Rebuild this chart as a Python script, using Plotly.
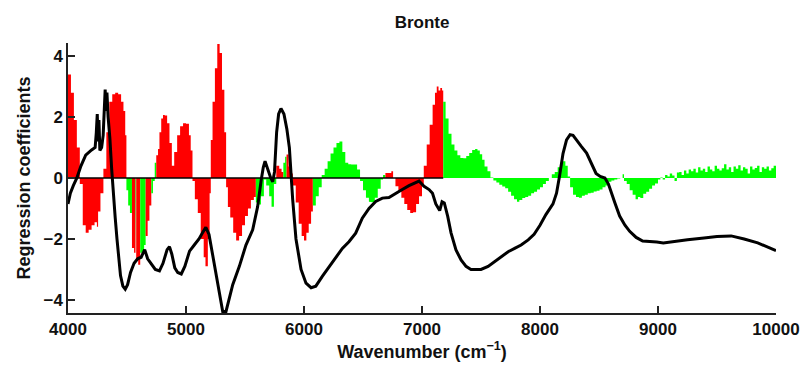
import plotly.graph_objects as go

# ---- Regression coefficients (bar start wavenumber, value) ----
coef_wn = [
    4000, 4025, 4050, 4075, 4100, 4125, 4150, 4175, 4200, 4225,
    4245, 4255, 4275, 4300, 4325, 4350, 4375, 4400, 4425, 4450,
    4470, 4485, 4495, 4510, 4525, 4542, 4560, 4572, 4578, 4595,
    4612, 4630, 4645, 4658, 4675, 4690, 4706, 4720, 4735, 4748,
    4763, 4775, 4790, 4805, 4820, 4840, 4860, 4880, 4900, 4925,
    4950, 4975, 5000, 5025, 5040, 5055, 5075, 5100, 5125, 5150,
    5165, 5185, 5200, 5210, 5225, 5245, 5265, 5285, 5305, 5325,
    5340, 5355, 5375, 5400, 5425, 5450, 5475, 5500, 5525, 5550,
    5575, 5592, 5610, 5635, 5660, 5680, 5705, 5725, 5745, 5765,
    5790, 5810, 5825, 5840, 5852, 5870, 5890, 5905, 5930, 5955,
    5980, 6000, 6020, 6040, 6060, 6075, 6100, 6125, 6150, 6175,
    6200, 6225, 6250, 6275, 6300, 6325, 6350, 6375, 6400, 6425,
    6450, 6475, 6500, 6525, 6550, 6575, 6600, 6625, 6650, 6670,
    6690, 6715, 6740, 6755, 6775, 6800, 6825, 6850, 6875, 6900,
    6925, 6950, 6975, 7000, 7015, 7040, 7065, 7090, 7110, 7125,
    7140, 7155, 7170, 7180, 7200, 7225, 7250, 7275, 7300, 7325,
    7350, 7375, 7400, 7425, 7450, 7470, 7490, 7510, 7530, 7555,
    7580, 7605, 7630, 7655, 7680, 7705, 7730, 7755, 7780, 7805,
    7825, 7850, 7875, 7900, 7925, 7950, 7975, 8000, 8025, 8050,
    8075, 8100, 8125, 8150, 8175, 8195, 8215, 8235, 8255, 8280,
    8305, 8330, 8355, 8380, 8405, 8430, 8455, 8480, 8505, 8530,
    8555, 8580, 8605, 8630, 8655, 8680, 8700, 8712, 8735, 8760,
    8785, 8810, 8830, 8850, 8875, 8900, 8925, 8950, 8975, 9000,
    9020, 9040, 9060, 9080, 9100, 9120, 9140, 9160, 9180, 9200,
    9220, 9240, 9260, 9280, 9300, 9320, 9340, 9360, 9380, 9400,
    9420, 9440, 9460, 9480, 9500, 9520, 9540, 9560, 9580, 9600,
    9620, 9640, 9660, 9680, 9700, 9720, 9740, 9760, 9780, 9800,
    9820, 9840, 9860, 9880, 9900, 9920, 9940, 9960, 9980,
]
coef_val = [
    3.4, 2.8, 1.9, 1.0, -0.2, -1.55, -1.8, -1.7, -1.55, -1.45,
    -1.6, -1.1, -0.5, 0.3, 1.5, 2.5, 2.75, 2.8, 2.75, 2.5,
    2.2, 1.4, -0.4, -0.9, -1.15, -2.3, -2.45, -2.45, -2.7, -2.85,
    -2.45, -2.4, -2.2, -1.9, -1.4, -0.9, -0.5, -0.1, 0.5, 0.75,
    0.95, 1.5, 1.95, 2.07, 2.05, 1.8, 1.15, 0.4, 0.85, 1.4,
    1.7, 1.8, 1.78, 1.4, 0.9, -0.1, -0.7, -1.15, -2.0, -2.6,
    -2.9, -2.0, -0.5, 1.25, 2.5, 3.6, 4.4, 4.1, 2.9, 1.5,
    -0.3, -0.95, -1.3, -1.8, -2.05, -1.9, -1.55, -1.25, -1.0, -0.72,
    -0.62, -0.8, -0.87, -0.6, -0.05, -0.25, -0.6, -0.94, -0.2, 0.4,
    0.3, 0.2, 0.5, 0.7, 0.77, 0.38, 0.15, -0.25, -0.8, -1.5,
    -1.9, -2.05, -1.8, -1.5, -1.1, -0.9, -0.6, -0.3, 0.1, 0.3,
    0.55, 0.8, 1.0, 1.15, 1.2, 0.85, 0.5, 0.45, 0.44, 0.44,
    0.28, -0.1, -0.4, -0.65, -0.78, -0.8, -0.65, -0.35, -0.05, 0.1,
    0.16, 0.16, 0.22, 0.0, -0.27, -0.45, -0.65, -0.85, -1.05, -1.15,
    -1.12, -0.85, -0.6, -0.2, 0.4, 1.1, 1.75, 2.4, 2.8, 3.0,
    2.87, 2.95, 2.87, 2.5, 1.95, 1.45, 1.1, 0.9, 0.75, 0.66,
    0.65, 0.72, 0.82, 0.92, 0.95, 0.9, 0.78, 0.6, 0.38, 0.22,
    0.02, -0.08, -0.15, -0.22, -0.28, -0.34, -0.45, -0.58, -0.7, -0.78,
    -0.72, -0.66, -0.62, -0.58, -0.5, -0.45, -0.38, -0.3, -0.2, -0.1,
    0.0, 0.12, 0.2, 0.35, 0.5, 0.55, 0.4, 0.05, -0.3, -0.55,
    -0.62, -0.65, -0.58, -0.55, -0.5, -0.48, -0.44, -0.42, -0.38, -0.3,
    -0.25, -0.12, -0.08, -0.05, -0.02, 0.0, 0.12, -0.1, -0.2, -0.4,
    -0.55, -0.7, -0.62, -0.66, -0.52, -0.45, -0.35, -0.25, -0.18, -0.05,
    0.02, -0.05, 0.1, 0.05, 0.15, 0.08, -0.1, 0.18, 0.2, 0.1,
    0.25, 0.15, 0.28, 0.22, 0.3, 0.18, 0.35, 0.25, 0.3, 0.2,
    0.38, 0.28, 0.22, 0.4, 0.3, 0.25, 0.32, 0.45, 0.28, 0.35,
    0.2, 0.38, 0.3, 0.42, 0.25, 0.35, 0.3, 0.15, 0.38, 0.28,
    0.33, 0.4, 0.2, 0.35, 0.3, 0.38, 0.25, 0.32, 0.4,
]
coef_end = 10000

# wavenumber bands whose coefficients are drawn in red (others green)
red_bands = [(4000, 4495), (4542, 4572), (4578, 4612), (4658, 4706),
             (4748, 5592), (5765, 5825), (5852, 6075), (6690, 7180)]

# ---- Scaled spectrum (black line) ----
spec_wn = [
    4000, 4020, 4045, 4075, 4110, 4150, 4200, 4230, 4240, 4248,
    4255, 4262, 4270, 4285, 4298, 4306, 4315, 4322, 4330, 4340,
    4355, 4370, 4385, 4400, 4415, 4430, 4445, 4465, 4485, 4505,
    4530, 4560, 4590, 4620, 4650, 4675, 4710, 4740, 4775, 4805,
    4840, 4860, 4880, 4905, 4930, 4960, 4990, 5030, 5070, 5110,
    5140, 5168, 5195, 5226, 5254, 5282, 5311, 5339, 5367, 5396,
    5452, 5508, 5565, 5607, 5636, 5655, 5670, 5690, 5718, 5735,
    5750, 5768, 5785, 5805, 5830, 5855, 5876, 5904, 5932, 5975,
    6017, 6060, 6100, 6155, 6212, 6268, 6325, 6381, 6438, 6494,
    6551, 6608, 6664, 6720, 6777, 6833, 6890, 6946, 6975, 7017,
    7060, 7089, 7117, 7150, 7170, 7189, 7218, 7246, 7288, 7331,
    7373, 7415, 7500, 7560, 7615, 7670, 7730, 7785, 7840, 7900,
    7950, 8000, 8050, 8110, 8140, 8165, 8195, 8225, 8255, 8280,
    8310, 8350, 8395, 8435, 8475, 8510, 8550, 8580, 8605, 8635,
    8675, 8720, 8760, 8815, 8870, 8930, 8990, 9045, 9100, 9160,
    9250, 9390, 9500, 9620, 9730, 9845, 9930, 10000,
]
spec_val = [
    -0.85, -0.5, -0.25, 0.0, 0.4, 0.75, 0.92, 1.0, 1.5, 2.1,
    1.2, 1.9, 0.9, 1.0, 1.4, 2.4, 2.9, 2.2, 2.8, 2.0,
    1.3, 0.3, -0.6, -1.3, -2.0, -2.7, -3.2, -3.55, -3.65, -3.5,
    -3.1, -2.8, -2.65, -2.6, -2.35, -2.65, -2.85, -3.0, -3.05, -2.8,
    -2.35, -2.25, -2.5, -2.95, -3.1, -3.15, -2.9, -2.4, -2.2, -2.0,
    -1.8, -1.62, -1.85, -2.55, -3.2, -3.85, -4.38, -4.38, -3.98, -3.5,
    -2.9, -2.2, -1.7, -0.94, -0.1, 0.35, 0.55, 0.3, 0.0, -0.12,
    0.2, 1.5, 2.1, 2.28, 2.1, 1.6, 1.0, -0.7, -2.0, -3.0,
    -3.45, -3.6, -3.55, -3.23, -2.92, -2.58, -2.31, -2.09, -1.81, -1.32,
    -1.0, -0.77, -0.66, -0.64, -0.52, -0.38, -0.25, -0.14, -0.1, -0.27,
    -0.38, -0.5, -0.85, -1.07, -0.78, -0.82, -1.26, -1.8, -2.36, -2.69,
    -2.9, -3.0, -3.0, -2.9, -2.75, -2.58, -2.42, -2.31, -2.2, -2.03,
    -1.85, -1.55, -1.2, -0.85, -0.5, 0.05, 0.8, 1.25, 1.42, 1.4,
    1.26, 1.04, 0.82, 0.5, 0.15, 0.05, 0.0, -0.2, -0.5, -0.82,
    -1.25, -1.55, -1.75, -1.95, -2.07, -2.08, -2.1, -2.13, -2.1, -2.08,
    -2.03, -1.97, -1.92, -1.9, -2.0, -2.13, -2.28, -2.38,
]

x_ticks = [4000, 5000, 6000, 7000, 8000, 9000, 10000]
x_tick_text = ["4000", "5000", "6000", "7000", "8000", "9000", "10000"]
y_ticks = [-4, -2, 0, 2, 4]
x_range = [4000, 10000]
y_range = [-4.43, 4.43]

RED, GREEN = "#ff0000", "#00ff00"

# ---- derived drawing data: contiguous colour runs drawn as stepped fills ----
is_red = [any(a <= w < b for a, b in red_bands) for w in coef_wn]
edges = coef_wn + [coef_end]
runs = []
start = 0
for i in range(1, len(coef_wn) + 1):
    if i == len(coef_wn) or is_red[i] != is_red[start]:
        runs.append((start, i))
        start = i

fig = go.Figure()
for s, e in runs:
    px, py = [edges[s]], [0]
    for i in range(s, e):
        px += [edges[i], edges[i + 1]]
        py += [coef_val[i], coef_val[i]]
    px.append(edges[e]); py.append(0)
    col = RED if is_red[s] else GREEN
    fig.add_trace(go.Scatter(
        x=px, y=py, mode="lines", line=dict(width=0, color=col),
        fill="toself", fillcolor=col, hoverinfo="skip",
    ))

red_end = max(edges[e] for s, e in runs if is_red[s])
fig.add_trace(go.Scatter(
    x=[coef_wn[0], red_end], y=[0, 0], mode="lines",
    line=dict(color="black", width=1.5), hoverinfo="skip",
))
fig.add_trace(go.Scatter(
    x=spec_wn, y=spec_val, mode="lines",
    line=dict(color="black", width=3), hoverinfo="skip",
))

axis_font = dict(family="Liberation Sans, Arial, sans-serif", size=17, color="#111", weight="bold")
title_font = dict(family="Liberation Sans, Arial, sans-serif", size=18, color="#111", weight="bold")

fig.update_layout(
    width=804, height=366,
    margin=dict(l=68, r=28, t=43, b=53, autoexpand=False),
    paper_bgcolor="white", plot_bgcolor="white",
    showlegend=False,
    title=dict(text="<b>Bronte</b>", x=0.525, xanchor="center", y=1 - 22 / 366, yanchor="middle",
               font=dict(family="Liberation Sans, Arial, sans-serif", size=17, color="#111")),
    xaxis=dict(
        range=x_range, tickvals=x_ticks, ticktext=x_tick_text, ticks="inside", ticklen=7,
        tickwidth=1.5, tickcolor="#222",
        showline=True, linecolor="#222", linewidth=1.5, showgrid=False, zeroline=False,
        tickfont=axis_font,
        title=dict(text="<b>Wavenumber (cm<sup>−1</sup>)</b>", font=title_font, standoff=6),
    ),
    yaxis=dict(
        range=y_range, tickvals=y_ticks, ticks="inside", ticklen=7, tickwidth=1.5, tickcolor="#222",
        showline=True, linecolor="#222", linewidth=1.5, showgrid=False, zeroline=False,
        tickfont=axis_font,
        title=dict(text="<b>Regression coefficients</b>", font=title_font, standoff=8),
    ),
)

fig.write_html("out.html")
